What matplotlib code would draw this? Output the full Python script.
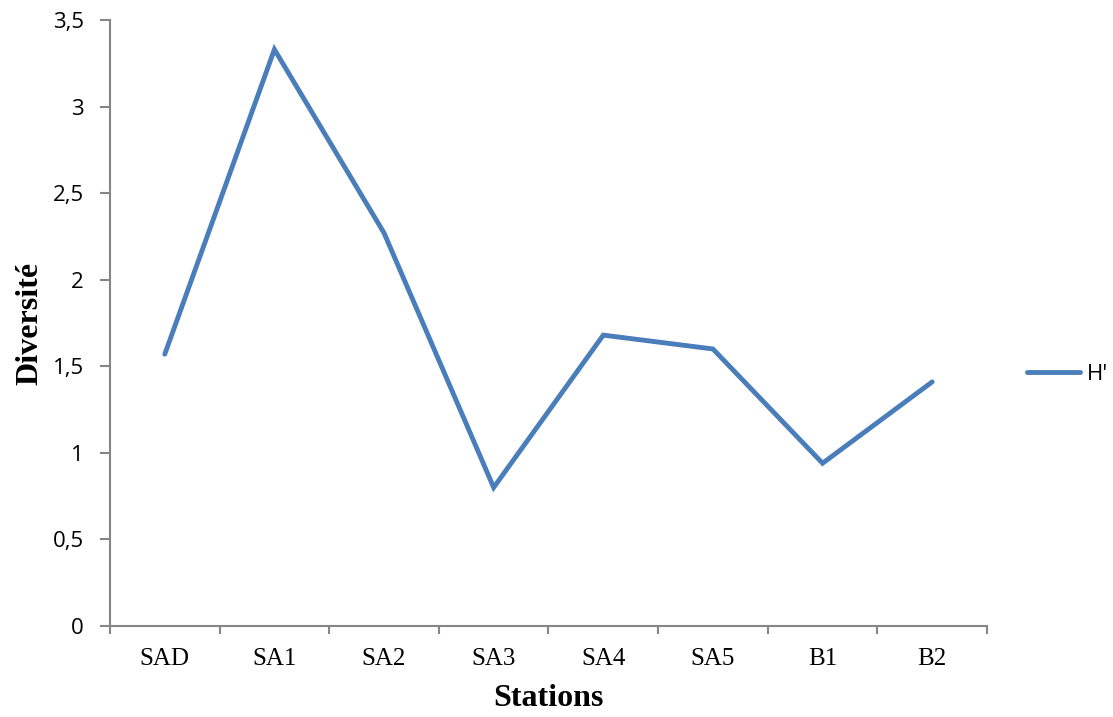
import matplotlib.pyplot as plt
import numpy as np
from matplotlib.ticker import FuncFormatter

stations = ["SAD", "SA1", "SA2", "SA3", "SA4", "SA5", "B1", "B2"]
h_values = [1.57, 3.33, 2.27, 0.80, 1.68, 1.60, 0.94, 1.41]

line_color = "#4A7EBB"
axis_color = "#868686"

fig = plt.figure(figsize=(11.13, 7.17), dpi=100)
ax = fig.add_axes([0.0988, 0.1269, 0.788, 0.8452])

x = np.arange(len(stations))
ax.plot(x, h_values, color=line_color, lw=3.5, solid_capstyle="round",
        solid_joinstyle="miter", label="H'")

ax.set_xlim(-0.5, len(stations) - 0.5)
ax.set_ylim(0, 3.5)
ax.set_yticks(np.arange(0, 3.51, 0.5))
ax.yaxis.set_major_formatter(FuncFormatter(
    lambda v, p: ("%g" % v).replace(".", ",")))

# categories between tick marks, Excel style
ax.set_xticks(np.arange(-0.5, len(stations), 1.0))
ax.set_xticklabels([])
ax.set_xticks(x, minor=True)
ax.set_xticklabels(stations, minor=True, fontfamily="Liberation Serif", fontsize=18)
ax.tick_params(axis="x", which="minor", length=0, pad=16)
ax.tick_params(axis="x", which="major", length=6, width=1.5, color=axis_color)
ax.tick_params(axis="y", length=7, width=1.5, color=axis_color, pad=12, labelsize=16)
for lab in ax.get_yticklabels():
    lab.set_fontfamily("Open Sans")

for side in ["top", "right"]:
    ax.spines[side].set_visible(False)
for side in ["left", "bottom"]:
    ax.spines[side].set_color(axis_color)
    ax.spines[side].set_linewidth(1.5)

ax.set_xlabel("Stations", fontfamily="Liberation Serif", fontweight="bold",
              fontsize=23, labelpad=10)
ax.set_ylabel("Diversité", fontfamily="Liberation Serif", fontweight="bold",
              fontsize=23, labelpad=6)

leg = ax.legend(loc="center left", bbox_to_anchor=(1.035, 0.415), frameon=False,
                handlelength=2.4, handletextpad=0.3, borderaxespad=0,
                prop={"family": "Open Sans", "size": 16})

fig.savefig("out.png", dpi=100)
